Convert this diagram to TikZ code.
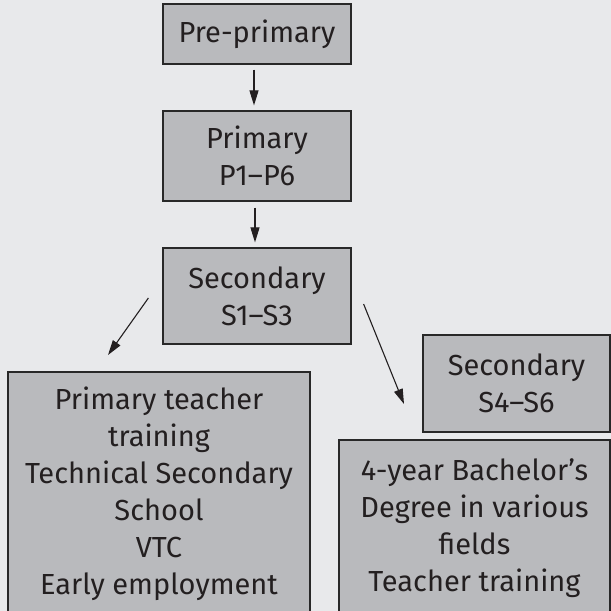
\documentclass[tikz,border=0pt]{standalone}
\usepackage{fontspec}
\setmainfont{Fira Sans}
\usetikzlibrary{arrows.meta}
\definecolor{pagegray}{RGB}{232,233,235}
\definecolor{boxgray}{RGB}{185,186,189}
\definecolor{edgegray}{RGB}{40,40,40}
\definecolor{inkgray}{RGB}{35,31,32}

\begin{document}
\begin{tikzpicture}[x=1pt,y=-1pt]
\tikzset{
  stagebox/.style={rectangle,draw=edgegray,fill=boxgray,line width=1.2pt,align=center,inner sep=0pt,text=inkgray,font=\fontsize{29}{37}\selectfont},
  flowarrow/.style={-{Triangle[length=15pt,width=9pt]},line width=1.1pt,draw=inkgray}
}
\fill[pagegray] (0,0) rectangle (611,611);
\useasboundingbox (0,0) rectangle (611,611);
\clip (0,0) rectangle (611,611);
\node[stagebox,minimum width=188pt,minimum height=60pt] (n_pre) at (257,34) {Pre-primary};
\node[stagebox,minimum width=188pt,minimum height=90pt] (n_prim) at (257,156) {Primary\\P1--P6};
\node[stagebox,minimum width=188pt,minimum height=96pt] (n_sec1) at (257,296) {Secondary\\S1--S3};
\node[stagebox,minimum width=187pt,minimum height=97pt] (n_sec2) at (516.5,383.5) {Secondary\\S4--S6};
\node[stagebox,minimum width=302pt,minimum height=243pt] (n_exit) at (159,493.5) {Primary teacher\\training\\Technical Secondary\\School\\VTC\\Early employment};
\node[stagebox,minimum width=271pt,minimum height=176pt] (n_degree) at (474.5,528) {4-year Bachelor’s\\Degree in various\\fields\\Teacher training};
\coordinate (c_lefttip) at (108,355);
\coordinate (c_righttip) at (404,404);
\draw[flowarrow,shorten <=5pt,shorten >=5pt] ([xshift=-3pt]n_pre.south) -- ([xshift=-3pt]n_prim.north);
\draw[flowarrow,shorten <=6pt,shorten >=5pt] ([xshift=-2pt]n_prim.south) -- ([xshift=-2pt]n_sec1.north);
\draw[flowarrow] ([xshift=-14pt,yshift=-2pt]n_sec1.west) -- (c_lefttip);
\draw[flowarrow] ([xshift=12pt,yshift=-8pt]n_sec1.east) -- (c_righttip);
\end{tikzpicture}
\end{document}
